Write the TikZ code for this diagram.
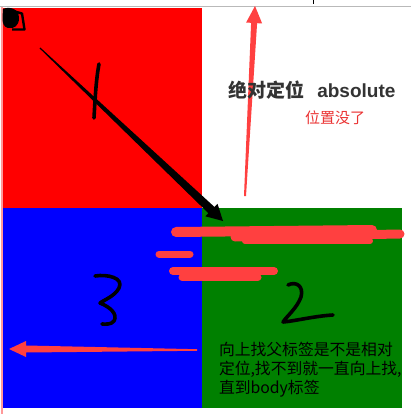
\documentclass[tikz,border=0pt]{standalone}
\usepackage{fontspec}
\setmainfont{Noto Sans CJK SC}
\newfontfamily\lib{Liberation Sans}
\definecolor{boxred}{RGB}{255,0,0}
\definecolor{boxblue}{RGB}{0,0,255}
\definecolor{boxgreen}{RGB}{0,128,0}
\definecolor{marker}{RGB}{255,64,64}
\definecolor{note}{RGB}{235,50,50}
\definecolor{title}{RGB}{51,51,51}
\tikzset{
  box/.style={draw=none},
  hand/.style={draw=black, line width=3.6pt, line cap=round, line join=round},
  strike/.style={draw=marker, line cap=round},
  txt/.style={inner sep=0pt, outer sep=0pt}
}
\begin{document}
\begin{tikzpicture}[x=1pt,y=-1pt]
\useasboundingbox (0,0) rectangle (411,414);
\fill[white] (0,0) rectangle (411,414);
% top gray line and tick
\draw[gray!55, line width=1pt] (0,7) -- (411,7);
\draw[black, line width=0.8pt] (313,0) -- (313,4);
% boxes
\node[box, fill=boxred, minimum width=199pt, minimum height=200pt, anchor=north west, inner sep=0pt] (red) at (3,7.5) {};
\node[box, fill=boxblue, minimum width=199pt, minimum height=200pt, anchor=north west, inner sep=0pt] (blue) at (3,207.5) {};
\node[box, fill=boxgreen, minimum width=200pt, minimum height=200pt, anchor=north west, inner sep=0pt] (green) at (202,208) {};
% pink left edge
\draw[red!40, line width=1.5pt] (2,7) -- (2,414);
% top-left blob
\draw[black, line width=2.4pt, line join=round] (13,11) -- (22,13.5) -- (24.5,29.5) -- (12,29.5);
\fill[black] (3,9) .. controls (10,6) and (19,9) .. (19,18) .. controls (19,26) and (14,29) .. (8,28) .. controls (4,27) and (2.5,24) .. (2.5,18) -- cycle;
% handwritten numbers
\draw[hand] (99,64) .. controls (96,80) and (95,100) .. (94,118);
\draw[hand] (95,276) .. controls (108,274) and (124,278) .. (119,288)
  .. controls (115,296) and (104,300) .. (100,303)
  .. controls (110,307) and (118,314) .. (114,321)
  .. controls (111,325) and (105,324) .. (102,324);
\draw[hand] (288,285) .. controls (296,281) and (304,286) .. (301,297)
  .. controls (297,308) and (287,316) .. (283,322)
  .. controls (295,321) and (315,316) .. (333,315);
% black tapered arrow
\coordinate (bs) at (40,48);
\coordinate (bt) at (223,221);
\fill[black] (40.4,47.6) -- (214.5,207.0) -- (217.5,203.8) -- (bt) -- (205.3,216.3) -- (208.4,213.2) -- (39.6,48.4) -- cycle;
% red up arrow
\coordinate (us) at (245,196);
\coordinate (ut) at (255,6);
\fill[marker] (246,196) -- (257.1,23.2) -- (262.1,23.4) -- (ut) -- (246.1,22.6) -- (251.1,22.8) -- (244,196) -- cycle;
% red left arrow
\coordinate (ls) at (197,350);
\coordinate (lt) at (9,349);
\fill[marker] (197,350.8) -- (26,352.5) -- (26,357) -- (lt) -- (26,341) -- (26,345.5) -- (197,349.2) -- cycle;
% texts
\node[txt, anchor=west, text=title, font=\fontsize{19}{22}\selectfont\bfseries] (t1) at (228,90) {绝对定位\hspace{0.7em}{\lib absolute}};
\node[txt, anchor=west, text=note, font=\fontsize{15}{18}\selectfont] (t2) at (305,117.5) {位置没了};
\node[txt, anchor=north west, align=left, text=black, font=\fontsize{15.8}{19}\selectfont] (t3) at (219,342) {向上找父标签是不是相对\\定位,找不到就一直向上找,\\直到body标签};
% scribbled-out text
\draw[strike, line width=10pt] (176,232) -- (372,230);
\draw[strike, line width=9pt] (235,237) -- (400,234);
\draw[strike, line width=6pt] (245,241) -- (370,241);
\draw[strike, line width=7pt] (159,254) -- (190,254);
\draw[strike, line width=8pt] (173,271) -- (274,271);
\draw[strike, line width=7pt] (182,277) -- (258,277);
\end{tikzpicture}
\end{document}
